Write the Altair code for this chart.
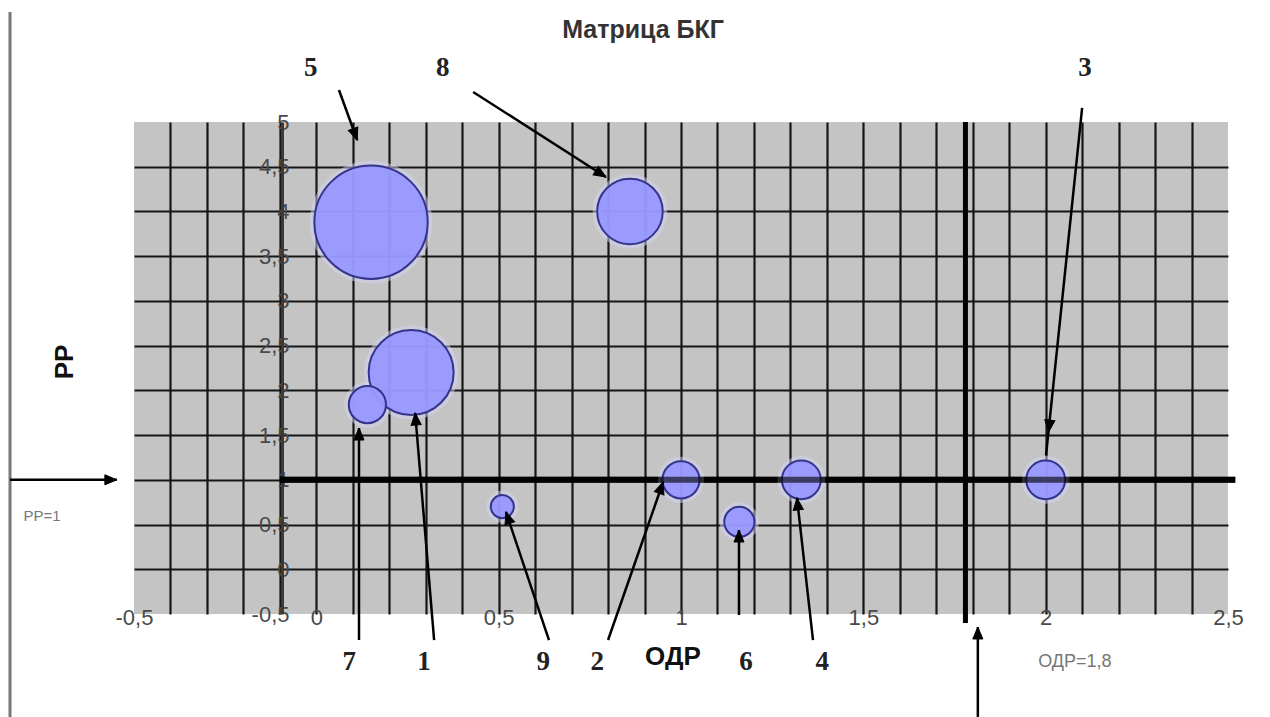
import math
import altair as alt
import pandas as pd

# ---- data: products of the BCG matrix ----
products = ["1", "2", "3", "4", "5", "6", "7", "8", "9"]
odr = [0.26, 1.0, 2.0, 1.33, 0.15, 1.16, 0.14, 0.86, 0.51]      # относительная доля рынка
rr = [2.2, 1.0, 1.0, 1.0, 3.88, 0.53, 1.84, 4.0, 0.70]          # темп роста рынка
sales = [23, 4.4, 4.8, 4.8, 41, 2.9, 4.4, 13.7, 1.7]            # объём продаж (размер пузыря)

RR_LINE = 1.0
ODR_LINE = 1.78

x_ticks = [round(-0.5 + 0.1 * i, 1) for i in range(31)]
y_ticks = [round(-0.5 + 0.5 * i, 1) for i in range(12)]

X_DOMAIN = [-0.5, 2.5]
Y_DOMAIN = [-0.5, 5.0]
W, H = 1094, 492

# ---- annotation positions (data units) ----
num_text = ["5", "8", "3", "7", "1", "9", "2", "6", "4"]
num_x = [-0.015, 0.347, 2.108, 0.090, 0.295, 0.622, 0.770, 1.178, 1.387]
num_y = [5.60, 5.60, 5.60, -1.04, -1.04, -1.04, -1.04, -1.04, -1.04]

arr_x1 = [0.062, 0.430, 2.100, 0.117, 0.323, 0.638, 0.800, 1.159, 1.362, -0.840, 1.814]
arr_y1 = [5.358, 5.335, 5.157, -0.791, -0.791, -0.791, -0.791, -0.511, -0.791, 1.0, -1.651]
arr_x2 = [0.112, 0.794, 2.001, 0.117, 0.271, 0.520, 0.951, 1.159, 1.318, -0.547, 1.814]
arr_y2 = [4.799, 4.385, 1.277, 1.579, 1.747, 0.640, 0.976, 0.439, 0.797, 1.0, -0.645]
head_x = [0.112, 0.794, 2.008, 0.117, 0.271, 0.520, 0.951, 1.159, 1.318, -0.547, 1.814]
head_y = [4.799, 4.385, 1.535, 1.579, 1.747, 0.640, 0.976, 0.439, 0.797, 1.0, -0.645]

px_x = W / (X_DOMAIN[1] - X_DOMAIN[0])
px_y = H / (Y_DOMAIN[1] - Y_DOMAIN[0])
angles = []
for a, b, c, d in zip(arr_x1, arr_y1, arr_x2, arr_y2):
    dx = (c - a) * px_x
    dy = -(d - b) * px_y
    angles.append((math.degrees(math.atan2(dx, -dy)) + 360) % 360)

bubbles = pd.DataFrame({"Товар": products, "x": odr, "y": rr, "sales": sales})
nums = pd.DataFrame({"t": num_text, "x": num_x, "y": num_y})
arrows = pd.DataFrame({"x": arr_x1, "y": arr_y1, "x2": arr_x2, "y2": arr_y2})
heads = pd.DataFrame({"x": head_x, "y": head_y, "ang": angles})

xs = alt.Scale(domain=X_DOMAIN, nice=False, zero=False)
ys = alt.Scale(domain=Y_DOMAIN, nice=False, zero=False)

label_expr = ("abs(datum.value*2 - round(datum.value*2)) < 0.01 ? "
              "replace(replace(datum.label, '.', ','), '\u2212', '-') : ''")

x_axis = alt.Axis(values=x_ticks, format=".1~f", labelExpr=label_expr, grid=True,
                  gridColor="#161616", gridWidth=2.2,
                  gridOpacity={"condition": {"test": "datum.value < -0.45 || datum.value > 2.45", "value": 0}, "value": 1},
                  domain=False, ticks=False, tickSize=0, labelPadding=3, labelBaseline="middle",
                  labelFontSize=22, labelColor="#4a4a4a", labelFont="Liberation Sans",
                  labelOverlap=False, labelFlush=False, title=None)
y_axis = alt.Axis(values=y_ticks, format=".1~f",
                  labelExpr="replace(replace(datum.label, '.', ','), '\u2212', '-')",
                  grid=True, gridColor="#161616", gridWidth=2.2,
                  gridOpacity={"condition": {"test": "datum.value < -0.45 || datum.value > 4.95", "value": 0}, "value": 1},
                  domain=True, domainColor="#3a3a3a", domainWidth=3, offset=-148,
                  ticks=False, tickSize=0, labelPadding=-7, labelBaseline="middle",
                  labelFontSize=22, labelColor="#4a4a4a", labelFont="Liberation Sans",
                  labelOverlap=False, labelFlush=False, title=None)

X = lambda f="x": alt.X(f"{f}:Q", scale=xs, axis=x_axis)
Y = lambda f="y": alt.Y(f"{f}:Q", scale=ys, axis=y_axis)

hline_df = pd.DataFrame({"x": [-0.1], "x2": [2.52], "y": [RR_LINE]})
hline = alt.Chart(hline_df).mark_rule(color="black", strokeWidth=6).encode(x=X(), x2="x2:Q", y=Y())
hline_top = alt.Chart(hline_df).mark_rule(color="black", strokeWidth=6, opacity=0.6).encode(
    x=X(), x2="x2:Q", y=Y())
vline = alt.Chart(pd.DataFrame({"x": [ODR_LINE], "y": [5.0], "y2": [-0.6]})).mark_rule(
    color="black", strokeWidth=5).encode(x=X(), y=Y(), y2="y2:Q")
frame = alt.Chart(pd.DataFrame({"x": [-0.84], "y": [6.23], "y2": [-1.7]})).mark_rule(
    color="#777777", strokeWidth=3).encode(x=X(), y=Y(), y2="y2:Q")

size = alt.Size("sales:Q", scale=alt.Scale(domain=[0, 41], range=[0, math.pi * 64 ** 2]), legend=None)
halo = alt.Chart(bubbles).mark_point(shape="circle", filled=False, stroke="#d6d6f6",
                                     strokeWidth=9, strokeOpacity=0.7).encode(x=X(), y=Y(), size=size)
bub = alt.Chart(bubbles).mark_circle(fill="#9999ff", fillOpacity=0.96, stroke="#34348c",
                                     strokeWidth=2, strokeOpacity=1).encode(
    x=X(), y=Y(), size=size, tooltip=["Товар", "x", "y", "sales"])

arr = alt.Chart(arrows).mark_rule(color="black", strokeWidth=2.5).encode(
    x=X(), y=Y(), x2="x2:Q", y2="y2:Q")
hd = alt.Chart(heads).mark_point(shape="M0,0 L0.42,1 L-0.42,1 Z", filled=True, fill="black",
                                 stroke="black", strokeWidth=1, opacity=1, size=576).encode(
    x=X(), y=Y(), angle=alt.Angle("ang:Q", scale=None))

num_lbl = alt.Chart(nums).mark_text(font="Liberation Serif", fontSize=27, fontWeight="bold",
                                    color="#222222", baseline="middle").encode(x=X(), y=Y(), text="t:N")

def txt(t, x, y, **kw):
    return alt.Chart(pd.DataFrame({"t": [t], "x": [x], "y": [y]})).mark_text(
        baseline="middle", font="Liberation Sans", **kw).encode(x=X(), y=Y(), text="t:N")

title = txt("Матрица БКГ", 0.896, 6.03, fontSize=25, fontWeight="bold", color="#333333")
xt = txt("ОДР", 0.978, -0.98, fontSize=26, fontWeight="bold", color="#111111")
yt = txt("РР", -0.689, 2.317, fontSize=26, fontWeight="bold", color="#111111", angle=270)
rr1 = txt("РР=1", -0.752, 0.596, fontSize=15, color="#777777")
odr18 = txt("ОДР=1,8", 2.08, -1.037, fontSize=18, color="#777777")

chart = alt.layer(hline, vline, frame, halo, bub, hline_top, arr, hd, num_lbl,
                  title, xt, yt, rr1, odr18).properties(
    width=W, height=H,
    padding={"left": 134, "top": 122, "right": 42, "bottom": 103},
    autosize=alt.AutoSizeParams(type="none"),
    background="white",
).configure_view(fill="#c4c4c4", stroke=None)

chart.save("out.html", embed_options={"renderer": "svg", "actions": False})
